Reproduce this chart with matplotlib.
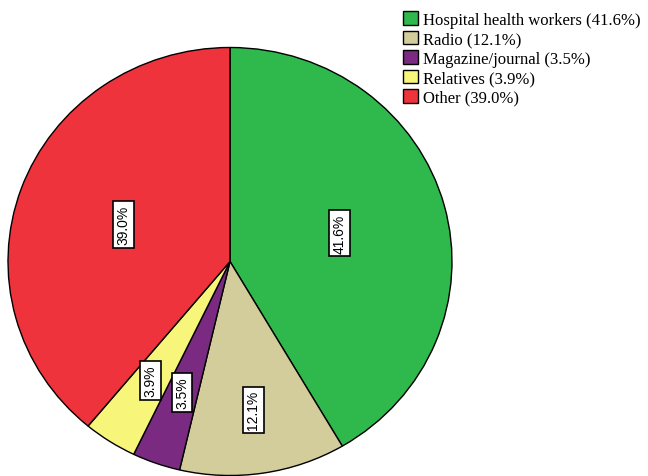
import numpy as np
import matplotlib
matplotlib.use("Agg")
import matplotlib.pyplot as plt

categories = ["Hospital health workers", "Radio", "Magazine/journal", "Relatives", "Other"]
values = [41.6, 12.1, 3.5, 3.9, 39.0]
colors = ["#2fb84b", "#d3cc9b", "#7a2a80", "#f8f57b", "#ef333c"]
label_radius = [0.51, 0.7, 0.65, 0.66, 0.51]

fig = plt.figure(figsize=(6.48, 4.77), dpi=100)
W, H = 648, 477
cx, cy, rx, ry = 230, 262.5, 222, 214
ax = fig.add_axes([(cx - rx) / W, (H - cy - ry) / H, 2 * rx / W, 2 * ry / H])
wedges, _ = ax.pie(values, colors=colors, startangle=90, counterclock=False,
                   wedgeprops=dict(edgecolor="black", linewidth=1.0))
ax.set_aspect("auto")
ax.set_xlim(-1, 1)
ax.set_ylim(-1, 1)
ax.axis("off")

for w, v, f in zip(wedges, values, label_radius):
    mid = np.deg2rad((w.theta1 + w.theta2) / 2)
    ax.text(f * np.cos(mid), f * np.sin(mid), f"{v:.1f}%", rotation=90,
            ha="center", va="center", fontsize=10, family="Liberation Sans",
            bbox=dict(boxstyle="square,pad=0.25", facecolor="white",
                      edgecolor="black", linewidth=1.2))

leg = fig.legend(wedges, [f"{c} ({v:.1f}%)" for c, v in zip(categories, values)],
                 loc="upper left", bbox_to_anchor=(403 / W, 1 - 12 / H),
                 frameon=False, prop=dict(family="Liberation Serif", size=12),
                 handlelength=0.9, handleheight=0.9, handletextpad=0.3,
                 labelspacing=0.17, borderaxespad=0, borderpad=0)

fig.savefig("out.png", dpi=100)
